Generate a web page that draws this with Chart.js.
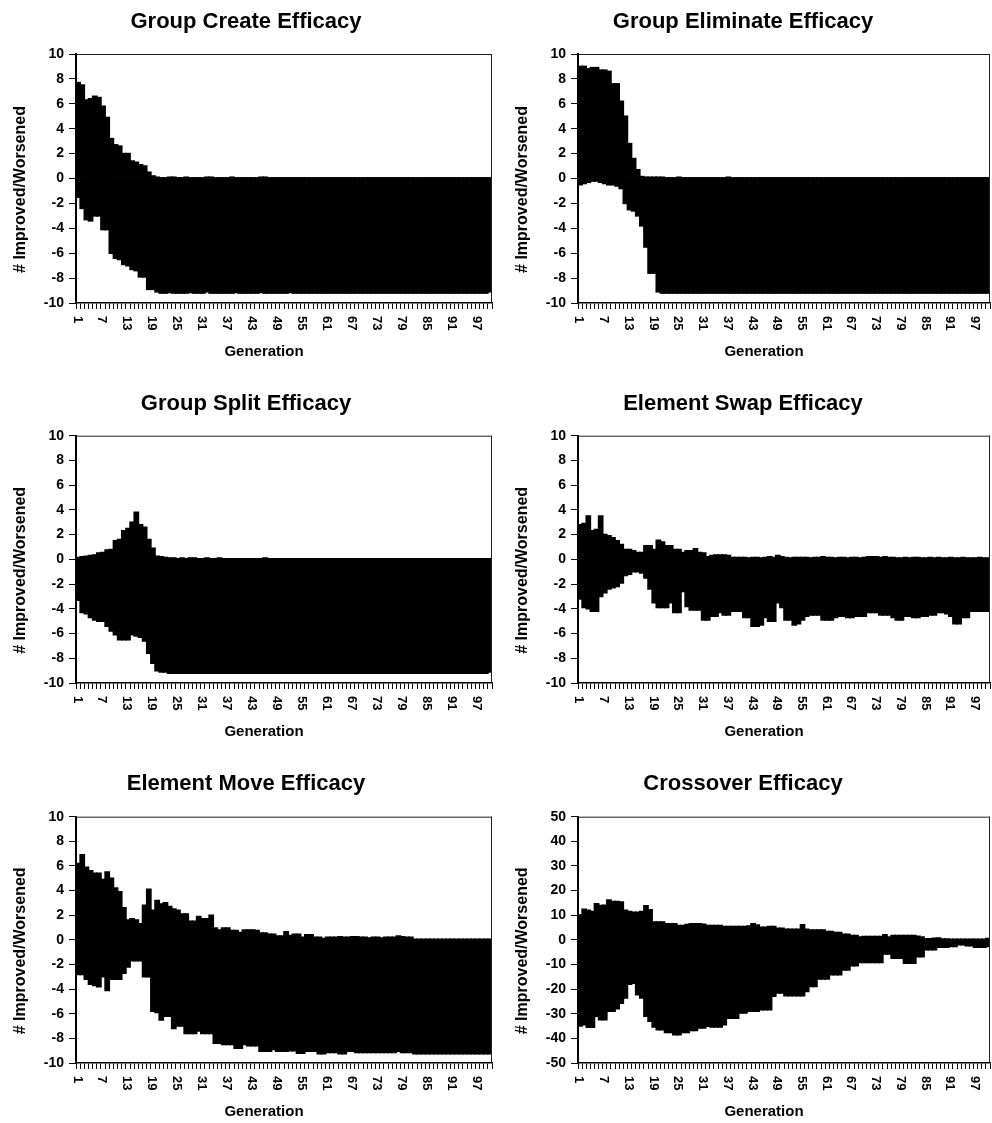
<!DOCTYPE html>
<html>
<head>
<meta charset="utf-8">
<title>Operator Efficacy by Generation</title>
<script src="https://cdn.jsdelivr.net/npm/chart.js@4.4.0/dist/chart.umd.min.js"></script>
<style>
  html, body { margin: 0; padding: 0; background: #fff; }
  #page { position: relative; width: 992px; height: 1123px; overflow: hidden; background: #fff; }
  .panel { position: absolute; }
  .panel canvas { display: block; }
</style>
</head>
<body>
<div id="page"></div>
<script>
// ---- categories and tick labels ----
const generations = Array.from({ length: 100 }, (_, i) => String(i + 1));
const shownGenerations = ['1', '7', '13', '19', '25', '31', '37', '43', '49', '55', '61', '67', '73', '79', '85', '91', '97'];
const yTicksSmall = [-10, -8, -6, -4, -2, 0, 2, 4, 6, 8, 10];
const yTicksCross = [-50, -40, -30, -20, -10, 0, 10, 20, 30, 40, 50];

// ---- Group Create ----
const groupCreateImproved = [
  7.7, 7.5, 6.3, 6.4, 6.6, 6.5, 5.8, 4.9, 3.2, 2.7,
  2.6, 2.0, 2.0, 1.4, 1.3, 1.1, 1.0, 0.5, 0.2, 0.1,
  0.05, 0.05, 0.1, 0.1, 0.05, 0.05, 0.1, 0.05, 0.05, 0.05,
  0.05, 0.1, 0.1, 0.05, 0.05, 0.05, 0.05, 0.1, 0.05, 0.05,
  0.05, 0.05, 0.05, 0.05, 0.1, 0.1, 0.05, 0.05, 0.05, 0.05,
  0.05, 0.05, 0.05, 0.05, 0.05, 0.05, 0.05, 0.05, 0.05, 0.05,
  0.05, 0.05, 0.05, 0.05, 0.05, 0.05, 0.05, 0.05, 0.05, 0.05,
  0.05, 0.05, 0.05, 0.05, 0.05, 0.05, 0.05, 0.05, 0.05, 0.05,
  0.05, 0.05, 0.05, 0.05, 0.05, 0.05, 0.05, 0.05, 0.05, 0.05,
  0.05, 0.05, 0.05, 0.05, 0.05, 0.05, 0.05, 0.05, 0.05, 0.05
];
const groupCreateWorsened = [
  -1.5, -2.4, -3.3, -3.4, -3.0, -3.0, -4.1, -4.1, -6.0, -6.4,
  -6.5, -6.9, -7.0, -7.3, -7.4, -7.9, -7.9, -8.9, -8.9, -9.1,
  -9.2, -9.2, -9.15, -9.2, -9.2, -9.2, -9.2, -9.15, -9.2, -9.2,
  -9.2, -9.1, -9.2, -9.2, -9.2, -9.2, -9.2, -9.2, -9.15, -9.2,
  -9.2, -9.2, -9.2, -9.2, -9.15, -9.2, -9.2, -9.2, -9.2, -9.2,
  -9.2, -9.15, -9.2, -9.2, -9.2, -9.2, -9.2, -9.2, -9.2, -9.2,
  -9.2, -9.2, -9.2, -9.2, -9.2, -9.2, -9.2, -9.2, -9.2, -9.2,
  -9.2, -9.2, -9.2, -9.2, -9.2, -9.2, -9.2, -9.2, -9.2, -9.2,
  -9.2, -9.2, -9.2, -9.2, -9.2, -9.2, -9.2, -9.2, -9.2, -9.2,
  -9.2, -9.2, -9.2, -9.2, -9.2, -9.2, -9.2, -9.2, -9.2, -9.1
];

// ---- Group Eliminate ----
const groupEliminateImproved = [
  9.0, 9.0, 8.8, 8.9, 8.9, 8.7, 8.7, 8.6, 7.6, 7.6,
  6.2, 5.0, 2.8, 1.6, 0.7, 0.15, 0.1, 0.1, 0.1, 0.1,
  0.1, 0.05, 0.05, 0.05, 0.1, 0.05, 0.05, 0.05, 0.05, 0.05,
  0.05, 0.05, 0.05, 0.05, 0.05, 0.05, 0.1, 0.05, 0.05, 0.05,
  0.05, 0.05, 0.05, 0.05, 0.05, 0.05, 0.05, 0.05, 0.05, 0.05,
  0.05, 0.05, 0.05, 0.05, 0.05, 0.05, 0.05, 0.05, 0.05, 0.05,
  0.05, 0.05, 0.05, 0.05, 0.05, 0.05, 0.05, 0.05, 0.05, 0.05,
  0.05, 0.05, 0.05, 0.05, 0.05, 0.05, 0.05, 0.05, 0.05, 0.05,
  0.05, 0.05, 0.05, 0.05, 0.05, 0.05, 0.05, 0.05, 0.05, 0.05,
  0.05, 0.05, 0.05, 0.05, 0.05, 0.05, 0.05, 0.05, 0.05, 0.05
];
const groupEliminateWorsened = [
  -0.5, -0.4, -0.3, -0.2, -0.2, -0.3, -0.4, -0.5, -0.5, -0.6,
  -0.8, -2.0, -2.5, -2.6, -3.0, -3.8, -5.5, -7.6, -7.6, -9.1,
  -9.2, -9.2, -9.2, -9.2, -9.2, -9.2, -9.2, -9.2, -9.2, -9.2,
  -9.2, -9.2, -9.2, -9.2, -9.2, -9.2, -9.2, -9.2, -9.2, -9.2,
  -9.2, -9.2, -9.2, -9.2, -9.2, -9.2, -9.2, -9.2, -9.2, -9.2,
  -9.2, -9.2, -9.2, -9.2, -9.2, -9.2, -9.2, -9.2, -9.2, -9.2,
  -9.2, -9.2, -9.2, -9.2, -9.2, -9.2, -9.2, -9.2, -9.2, -9.2,
  -9.2, -9.2, -9.2, -9.2, -9.2, -9.2, -9.2, -9.2, -9.2, -9.2,
  -9.2, -9.2, -9.2, -9.2, -9.2, -9.2, -9.2, -9.2, -9.2, -9.2,
  -9.2, -9.2, -9.2, -9.2, -9.2, -9.2, -9.2, -9.2, -9.2, -9.2
];

// ---- Group Split ----
const groupSplitImproved = [
  0.15, 0.2, 0.25, 0.3, 0.35, 0.5, 0.55, 0.75, 0.8, 1.5,
  1.6, 2.3, 2.5, 3.0, 3.8, 2.8, 2.6, 1.6, 0.9, 0.25,
  0.2, 0.15, 0.1, 0.1, 0.05, 0.1, 0.05, 0.1, 0.1, 0.05,
  0.05, 0.1, 0.05, 0.05, 0.1, 0.05, 0.05, 0.05, 0.05, 0.05,
  0.05, 0.05, 0.05, 0.05, 0.05, 0.1, 0.05, 0.05, 0.05, 0.05,
  0.05, 0.05, 0.05, 0.05, 0.05, 0.05, 0.05, 0.05, 0.05, 0.05,
  0.05, 0.05, 0.05, 0.05, 0.05, 0.05, 0.05, 0.05, 0.05, 0.05,
  0.05, 0.05, 0.05, 0.05, 0.05, 0.05, 0.05, 0.05, 0.05, 0.05,
  0.05, 0.05, 0.05, 0.05, 0.05, 0.05, 0.05, 0.05, 0.05, 0.05,
  0.05, 0.05, 0.05, 0.05, 0.05, 0.05, 0.05, 0.05, 0.05, 0.05
];
const groupSplitWorsened = [
  -3.3, -4.3, -4.4, -4.7, -4.9, -5.0, -5.0, -5.4, -5.8, -6.1,
  -6.5, -6.5, -6.5, -6.1, -6.2, -6.3, -6.6, -7.6, -8.4, -9.0,
  -9.1, -9.1, -9.2, -9.2, -9.2, -9.2, -9.2, -9.2, -9.2, -9.2,
  -9.2, -9.2, -9.2, -9.2, -9.2, -9.2, -9.2, -9.2, -9.2, -9.2,
  -9.2, -9.2, -9.2, -9.2, -9.2, -9.2, -9.2, -9.2, -9.2, -9.2,
  -9.2, -9.2, -9.2, -9.2, -9.2, -9.2, -9.2, -9.2, -9.2, -9.2,
  -9.2, -9.2, -9.2, -9.2, -9.2, -9.2, -9.2, -9.2, -9.2, -9.2,
  -9.2, -9.2, -9.2, -9.2, -9.2, -9.2, -9.2, -9.2, -9.2, -9.2,
  -9.2, -9.2, -9.2, -9.2, -9.2, -9.2, -9.2, -9.2, -9.2, -9.2,
  -9.2, -9.2, -9.2, -9.2, -9.2, -9.2, -9.2, -9.2, -9.2, -9.1
];

// ---- Element Swap ----
const elementSwapImproved = [
  2.8, 2.9, 3.5, 2.3, 2.4, 3.5, 2.0, 1.9, 1.75, 1.5,
  1.2, 0.8, 0.8, 0.7, 0.55, 0.55, 1.1, 1.1, 0.8, 1.55,
  1.4, 1.1, 1.1, 0.8, 0.8, 0.55, 0.7, 0.7, 0.85, 0.55,
  0.5, 0.2, 0.3, 0.35, 0.35, 0.35, 0.3, 0.15, 0.15, 0.15,
  0.15, 0.1, 0.15, 0.15, 0.1, 0.15, 0.2, 0.15, 0.3, 0.2,
  0.15, 0.1, 0.15, 0.15, 0.15, 0.15, 0.1, 0.15, 0.15, 0.2,
  0.15, 0.15, 0.1, 0.15, 0.15, 0.1, 0.15, 0.15, 0.1, 0.15,
  0.2, 0.2, 0.2, 0.15, 0.2, 0.15, 0.15, 0.1, 0.1, 0.15,
  0.1, 0.15, 0.15, 0.1, 0.1, 0.15, 0.1, 0.15, 0.1, 0.1,
  0.15, 0.1, 0.1, 0.15, 0.1, 0.1, 0.1, 0.15, 0.1, 0.1
];
const elementSwapWorsened = [
  -3.2, -3.9, -4.0, -4.2, -4.2, -3.0, -2.7, -2.4, -2.3, -2.2,
  -1.9, -1.3, -1.2, -1.0, -1.0, -1.1, -1.5, -2.4, -3.5, -3.9,
  -3.9, -3.9, -3.5, -4.3, -4.3, -2.6, -3.8, -4.1, -4.1, -4.1,
  -4.9, -4.9, -4.6, -4.6, -4.3, -4.5, -4.5, -4.2, -4.2, -4.2,
  -4.7, -4.7, -5.4, -5.4, -5.3, -4.7, -5.0, -5.0, -3.5, -3.9,
  -4.9, -4.9, -5.3, -5.2, -4.9, -4.6, -4.5, -4.5, -4.5, -4.9,
  -4.9, -4.9, -4.7, -4.6, -4.6, -4.7, -4.7, -4.6, -4.6, -4.6,
  -4.3, -4.3, -4.3, -4.5, -4.5, -4.5, -4.7, -4.9, -4.9, -4.6,
  -4.6, -4.7, -4.7, -4.6, -4.6, -4.5, -4.5, -4.3, -4.3, -4.4,
  -4.6, -5.2, -5.2, -4.7, -4.7, -4.2, -4.2, -4.2, -4.2, -4.2
];

// ---- Element Move ----
const elementMoveImproved = [
  6.2, 6.9, 5.9, 5.6, 5.4, 5.4, 4.9, 5.5, 5.0, 4.2,
  3.9, 2.6, 1.6, 1.7, 1.6, 1.3, 2.8, 4.1, 2.4, 3.2,
  2.9, 3.0, 2.7, 2.5, 2.4, 2.1, 2.1, 1.5, 1.5, 1.9,
  1.7, 1.7, 2.0, 0.95, 0.8, 0.95, 0.95, 0.75, 0.75, 0.6,
  0.8, 0.8, 0.8, 0.75, 0.55, 0.55, 0.45, 0.45, 0.3, 0.3,
  0.65, 0.35, 0.45, 0.45, 0.2, 0.4, 0.4, 0.2, 0.2, 0.1,
  0.2, 0.2, 0.2, 0.25, 0.2, 0.2, 0.25, 0.25, 0.2, 0.2,
  0.15, 0.2, 0.2, 0.15, 0.2, 0.2, 0.2, 0.3, 0.25, 0.2,
  0.2, 0.05, 0.05, 0.05, 0.05, 0.05, 0.05, 0.05, 0.05, 0.05,
  0.05, 0.05, 0.05, 0.05, 0.05, 0.05, 0.05, 0.05, 0.05, 0.05
];
const elementMoveWorsened = [
  -2.8, -2.8, -3.2, -3.6, -3.7, -3.8, -3.0, -4.1, -3.2, -3.2,
  -3.2, -2.7, -2.2, -1.7, -1.7, -1.7, -3.0, -3.0, -5.8, -5.9,
  -6.5, -6.2, -6.2, -7.2, -7.0, -7.0, -7.6, -7.6, -7.6, -7.4,
  -7.6, -7.6, -7.6, -8.4, -8.4, -8.5, -8.5, -8.5, -8.8, -8.8,
  -8.5, -8.6, -8.6, -8.6, -9.05, -9.05, -9.05, -8.9, -9.05, -9.05,
  -9.05, -9.0, -9.0, -9.2, -9.2, -9.05, -9.05, -9.05, -9.25, -9.25,
  -9.15, -9.15, -9.15, -9.25, -9.25, -9.05, -9.05, -9.15, -9.15, -9.15,
  -9.15, -9.15, -9.15, -9.15, -9.15, -9.15, -9.15, -9.05, -9.15, -9.15,
  -9.15, -9.25, -9.25, -9.25, -9.25, -9.25, -9.25, -9.25, -9.25, -9.25,
  -9.25, -9.25, -9.25, -9.25, -9.25, -9.25, -9.25, -9.25, -9.25, -9.25
];

// ---- Crossover ----
const crossoverImproved = [
  10.1, 12.4, 12.0, 11.5, 14.6, 13.9, 14.0, 16.2, 15.5, 15.5,
  15.3, 12.0, 11.5, 11.2, 11.2, 11.5, 13.8, 12.2, 7.2, 7.2,
  7.2, 6.5, 6.5, 6.5, 5.8, 5.8, 6.2, 6.5, 6.5, 6.5,
  6.3, 5.8, 5.8, 5.8, 5.8, 5.4, 5.4, 5.4, 5.4, 5.4,
  5.4, 5.6, 6.5, 6.0, 5.1, 5.1, 5.4, 5.4, 4.7, 4.7,
  4.3, 4.3, 4.3, 4.3, 6.1, 4.3, 4.0, 4.0, 4.0, 4.0,
  3.4, 3.4, 3.0, 3.0, 2.3, 2.3, 1.75, 1.7, 1.1, 1.35,
  1.35, 1.35, 1.35, 1.35, 2.0, 1.1, 1.75, 1.75, 1.75, 1.75,
  1.75, 1.75, 1.4, 1.1, 0.4, 0.4, 0.6, 0.7, 0.3, 0.3,
  0.2, 0.2, 0.1, 0.1, 0.2, 0.2, 0.1, 0.1, 0.2, 0.5
];
const crossoverWorsened = [
  -35.0, -34.5, -35.5, -35.5, -31.0, -32.4, -32.4, -29.0, -29.0, -28.0,
  -25.7, -23.6, -18.0, -17.6, -22.3, -23.6, -31.0, -33.0, -35.4, -36.5,
  -36.5, -37.6, -37.6, -38.5, -38.5, -37.6, -37.6, -36.8, -36.8, -35.8,
  -35.8, -35.1, -35.4, -35.4, -35.4, -34.5, -31.8, -31.8, -31.8, -29.7,
  -29.7, -29.0, -29.0, -29.0, -28.4, -28.4, -28.4, -22.9, -21.6, -21.6,
  -22.7, -22.7, -22.7, -22.7, -22.7, -21.0, -18.9, -18.9, -15.9, -15.9,
  -15.9, -14.2, -14.2, -14.2, -12.2, -12.2, -10.5, -10.5, -9.2, -9.2,
  -9.2, -9.2, -9.2, -9.2, -5.7, -5.7, -7.4, -7.4, -7.4, -9.5,
  -9.5, -9.5, -6.8, -6.8, -4.0, -4.0, -4.0, -3.0, -3.0, -3.0,
  -2.7, -2.7, -2.0, -2.0, -2.4, -2.4, -3.0, -3.0, -3.0, -2.7
];

// ---- page layout of the six panels ----
const FONT = '"Liberation Sans", Arial, Helvetica, sans-serif';
const panels = [
  { title: 'Group Create Efficacy',    improved: groupCreateImproved,    worsened: groupCreateWorsened,    ticks: yTicksSmall, left: 0,   top: 0,   h: 370, xh: 67, tPad: [9, 18.6],  col: 0 },
  { title: 'Group Eliminate Efficacy', improved: groupEliminateImproved, worsened: groupEliminateWorsened, ticks: yTicksSmall, left: 496, top: 0,   h: 370, xh: 67, tPad: [9, 18.6],  col: 1 },
  { title: 'Group Split Efficacy',     improved: groupSplitImproved,     worsened: groupSplitWorsened,     ticks: yTicksSmall, left: 0,   top: 370, h: 380, xh: 67, tPad: [21, 18.3], col: 0 },
  { title: 'Element Swap Efficacy',    improved: elementSwapImproved,    worsened: elementSwapWorsened,    ticks: yTicksSmall, left: 496, top: 370, h: 380, xh: 67, tPad: [21, 18.3], col: 1 },
  { title: 'Element Move Efficacy',    improved: elementMoveImproved,    worsened: elementMoveWorsened,    ticks: yTicksSmall, left: 0,   top: 750, h: 373, xh: 60, tPad: [20.5, 19.8], col: 0 },
  { title: 'Crossover Efficacy',       improved: crossoverImproved,      worsened: crossoverWorsened,      ticks: yTicksCross, left: 496, top: 750, h: 373, xh: 60, tPad: [20.5, 19.8], col: 1 }
];

// Frame lines on the open sides, downward-reading generation labels and axis titles
const frameAndLabels = {
  id: 'frameAndLabels',
  afterDraw(chart) {
    const { ctx, chartArea: a } = chart;
    const x = chart.scales.x;
    ctx.save();
    ctx.strokeStyle = '#222';
    ctx.lineWidth = 1;
    ctx.beginPath();
    ctx.moveTo(a.left, a.top + 0.5);
    ctx.lineTo(a.right, a.top + 0.5);
    ctx.moveTo(a.right - 0.5, a.top);
    ctx.lineTo(a.right - 0.5, a.bottom);
    ctx.stroke();

    ctx.fillStyle = '#000';
    ctx.font = 'bold 13px ' + FONT;
    ctx.textAlign = 'left';
    ctx.textBaseline = 'middle';
    shownGenerations.forEach(g => {
      const px = x.getPixelForValue(generations.indexOf(g));
      ctx.save();
      ctx.translate(px - 1, a.bottom + 13);
      ctx.rotate(Math.PI / 2);
      ctx.fillText(g, 0, 0);
      ctx.restore();
    });

    ctx.textAlign = 'center';
    ctx.font = 'bold 15px ' + FONT;
    ctx.fillText('Generation', (a.left + a.right) / 2 - 20, a.bottom + 49);

    ctx.save();
    ctx.translate(a.left - 55, (a.top + a.bottom) / 2 + 11);
    ctx.rotate(-Math.PI / 2);
    ctx.font = 'bold 16px ' + FONT;
    ctx.fillText('# Improved/Worsened', 0, 0);
    ctx.restore();
    ctx.restore();
  }
};

const page = document.getElementById('page');

panels.forEach(p => {
  const holder = document.createElement('div');
  holder.className = 'panel';
  holder.style.left = p.left + 'px';
  holder.style.top = p.top + 'px';
  holder.style.width = '496px';
  holder.style.height = p.h + 'px';
  const canvas = document.createElement('canvas');
  canvas.width = 496;
  canvas.height = p.h;
  holder.appendChild(canvas);
  page.appendChild(holder);

  const yWidth = p.col === 0 ? 76 : 82;
  const rightPad = p.col === 0 ? 4 : 2;
  const yMin = p.ticks[0];
  const yMax = p.ticks[p.ticks.length - 1];
  const yStep = p.ticks[1] - p.ticks[0];

  const barStyle = { backgroundColor: '#000', borderWidth: 0, barPercentage: 1, categoryPercentage: 1, inflateAmount: 0.8 };

  new Chart(canvas, {
    type: 'bar',
    data: {
      labels: generations,
      datasets: [
        Object.assign({ label: 'Improved', data: p.improved }, barStyle),
        Object.assign({ label: 'Worsened', data: p.worsened }, barStyle)
      ]
    },
    options: {
      responsive: false,
      animation: false,
      devicePixelRatio: 1,
      layout: { padding: { left: 0, right: rightPad, top: 0, bottom: 0 } },
      plugins: {
        legend: { display: false },
        tooltip: { enabled: false },
        title: {
          display: true,
          text: p.title,
          color: '#000',
          font: { family: FONT, size: 22, weight: 'bold' },
          padding: { top: p.tPad[0], bottom: p.tPad[1] }
        }
      },
      scales: {
        x: {
          stacked: true,
          offset: true,
          ticks: { display: false, autoSkip: false },
          grid: { drawOnChartArea: false, drawTicks: true, tickLength: 6, color: '#000', lineWidth: 1, offset: true },
          border: { display: true, color: '#000', width: 1.5 },
          afterFit: s => { s.height = p.xh; }
        },
        y: {
          stacked: true,
          min: yMin,
          max: yMax,
          ticks: {
            stepSize: yStep,
            color: '#000',
            padding: 5,
            font: { family: FONT, size: 14, weight: 'bold' }
          },
          grid: { drawOnChartArea: false, drawTicks: true, tickLength: 7, color: '#000', lineWidth: 1 },
          border: { display: true, color: '#000', width: 2 },
          afterFit: s => { s.width = yWidth; }
        }
      }
    },
    plugins: [frameAndLabels]
  });
});
</script>
</body>
</html>
